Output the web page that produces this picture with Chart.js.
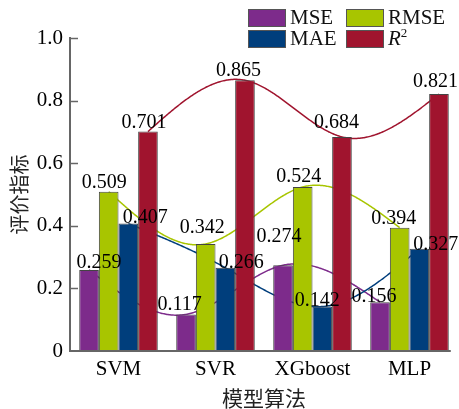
<!DOCTYPE html>
<html>
<head>
<meta charset="utf-8">
<script src="https://cdn.jsdelivr.net/npm/chart.js@4/dist/chart.umd.min.js"></script>
<style>
  html, body { margin: 0; padding: 0; background: #fff; }
  #wrap { position: relative; width: 459px; height: 409px; }
  #legend { position: absolute; left: 248px; top: 9px; font-family: "Liberation Serif", serif; font-size: 21px; color: #111; }
  .item { position: absolute; white-space: nowrap; line-height: 20px; }
  .sw { position: absolute; width: 36px; height: 16px; border: 1px solid #555; }
  .lbl { position: absolute; left: 42px; top: -2px; }
  sup { font-size: 13px; vertical-align: 0; position: relative; top: -8px; }
</style>
</head>
<body>
<div id="wrap">
  <canvas id="c" width="459" height="409"></canvas>
  <div id="legend"></div>
</div>
<script>
// ---- data ----
const categories = ['SVM', 'SVR', 'XGboost', 'MLP'];
const seriesNames = ['MSE', 'RMSE', 'MAE', 'R²'];
const mseValues  = [0.259, 0.117, 0.274, 0.156];
const rmseValues = [0.509, 0.342, 0.524, 0.394];
const maeValues  = [0.407, 0.266, 0.142, 0.327];
const r2Values   = [0.701, 0.865, 0.684, 0.821];
const yTickValues = [0, 0.2, 0.4, 0.6, 0.8, 1.0];
const yTitle = '评价指标';
const xTitle = '模型算法';

// ---- styles ----
const colors = ['#7D2B8B', '#A8C500', '#003E7C', '#A0142E'];
const axisColor = '#666';
const serif = '"Liberation Serif", "Noto Sans CJK SC", serif';
// label offsets relative to bar top centre [dx, dy] per series per category
const labelOffsets = [
  [[10, -2], [-6.5, -4], [-4, -23], [-6, 0]],
  [[-4.5, -4], [-3.5, -11], [-4, -5], [-6, -4]],
  [[17, -0.5], [16, 0], [-5, -0.5], [16.5, 1]],
  [[-4, -4], [-6.5, -4], [-5.5, -9], [-3.5, -7]]
];

// legend (HTML text)
const legendEl = document.getElementById('legend');
const legendPos = [[0, 0], [98, 0], [0, 21], [98, 21]];
const legendOrder = [0, 1, 2, 3];
const legendHtml = ['MSE', 'RMSE', 'MAE', '<i>R</i><sup>2</sup>'];
legendOrder.forEach((si, k) => {
  const d = document.createElement('div');
  d.className = 'item';
  d.style.left = legendPos[k][0] + 'px';
  d.style.top = legendPos[k][1] + 'px';
  d.innerHTML = '<span class="sw" style="background:' + colors[si] + '"></span><span class="lbl">' + legendHtml[si] + '</span>';
  legendEl.appendChild(d);
});

function naturalSpline(pts) {
  const n = pts.length;
  const h = [], al = [], l = [1], mu = [0], z = [0];
  for (let i = 0; i < n - 1; i++) h.push(pts[i + 1].x - pts[i].x);
  for (let i = 1; i < n - 1; i++) {
    al[i] = 3 / h[i] * (pts[i + 1].y - pts[i].y) - 3 / h[i - 1] * (pts[i].y - pts[i - 1].y);
  }
  for (let i = 1; i < n - 1; i++) {
    l[i] = 2 * (pts[i + 1].x - pts[i - 1].x) - h[i - 1] * mu[i - 1];
    mu[i] = h[i] / l[i];
    z[i] = (al[i] - h[i - 1] * z[i - 1]) / l[i];
  }
  const c = new Array(n).fill(0), b = [], d = [];
  for (let j = n - 2; j >= 0; j--) {
    c[j] = j === 0 ? 0 : z[j] - mu[j] * c[j + 1];
    b[j] = (pts[j + 1].y - pts[j].y) / h[j] - h[j] * (c[j + 1] + 2 * c[j]) / 3;
    d[j] = (c[j + 1] - c[j]) / (3 * h[j]);
  }
  return function (x) {
    let j = 0;
    while (j < n - 2 && x > pts[j + 1].x) j++;
    const dx = x - pts[j].x;
    return pts[j].y + b[j] * dx + c[j] * dx * dx + d[j] * dx * dx * dx;
  };
}

const curvePlugin = {
  id: 'curves',
  beforeDatasetsDraw(chart) {
    const ctx = chart.ctx;
    chart.data.datasets.forEach((ds, i) => {
      const meta = chart.getDatasetMeta(i);
      const pts = meta.data.map(b => ({ x: b.x, y: b.y }));
      const f = naturalSpline(pts);
      ctx.save();
      ctx.strokeStyle = colors[i];
      ctx.lineWidth = 1.5;
      ctx.beginPath();
      ctx.moveTo(pts[0].x, pts[0].y);
      for (let x = pts[0].x + 1; x < pts[pts.length - 1].x; x += 1) ctx.lineTo(x, f(x));
      ctx.lineTo(pts[pts.length - 1].x, pts[pts.length - 1].y);
      ctx.stroke();
      ctx.restore();
    });
  },
  afterDatasetsDraw(chart) {
    const ctx = chart.ctx;
    const area = chart.chartArea;
    ctx.save();
    // x axis line ending just past the last bar
    const lastMeta = chart.getDatasetMeta(chart.data.datasets.length - 1);
    const lastBar = lastMeta.data[lastMeta.data.length - 1];
    ctx.strokeStyle = axisColor;
    ctx.lineWidth = 2;
    ctx.beginPath();
    ctx.moveTo(area.left - 1, area.bottom);
    ctx.lineTo(lastBar.x + lastBar.width / 2 + 2, area.bottom);
    ctx.stroke();
    // inward y ticks
    const ys = chart.scales.y;
    ctx.lineWidth = 1.5;
    yTickValues.forEach(v => {
      if (v === 0) return;
      const y = Math.round(ys.getPixelForValue(v)) + 0.5;
      ctx.beginPath();
      ctx.moveTo(area.left, y);
      ctx.lineTo(area.left + 8, y);
      ctx.stroke();
    });
    // value labels
    ctx.font = '20px ' + serif;
    ctx.fillStyle = '#000';
    ctx.textAlign = 'center';
    ctx.textBaseline = 'alphabetic';
    chart.data.datasets.forEach((ds, i) => {
      const meta = chart.getDatasetMeta(i);
      meta.data.forEach((bar, j) => {
        const o = labelOffsets[i][j];
        ctx.fillText(ds.data[j].toFixed(3), bar.x + o[0], bar.y + o[1]);
      });
    });
    ctx.restore();
  }
};

const datasets = [mseValues, rmseValues, maeValues, r2Values].map((vals, i) => ({
  label: seriesNames[i],
  data: vals,
  backgroundColor: colors[i],
  borderColor: '#444',
  borderWidth: 1,
  borderSkipped: 'bottom',
  categoryPercentage: 0.81,
  barPercentage: 1.0
}));

new Chart(document.getElementById('c'), {
  type: 'bar',
  data: { labels: categories, datasets },
  plugins: [curvePlugin],
  options: {
    responsive: false,
    animation: false,
    layout: { padding: { top: 38, right: 1, left: 0, bottom: 0 } },
    plugins: { legend: { display: false }, tooltip: { enabled: false } },
    scales: {
      x: {
        afterFit(s) { s.height = 58; },
        grid: { display: false, drawTicks: false },
        border: { display: false },
        ticks: { color: '#000', font: { family: serif, size: 21 }, padding: 6 },
        title: { display: true, text: xTitle, color: '#222', font: { family: serif, size: 21 }, padding: { top: 0, bottom: -4 } }
      },
      y: {
        min: 0, max: 1.0,
        afterFit(s) { s.width = 70; },
        afterBuildTicks(s) { s.ticks = yTickValues.map(v => ({ value: v })); },
        grid: { display: false, drawTicks: false },
        border: { display: true, color: axisColor, width: 2 },
        ticks: {
          color: '#000', font: { family: serif, size: 21 }, padding: 7,
          callback: v => (v === 0 ? '0' : v.toFixed(1))
        },
        title: { display: true, text: yTitle, color: '#222', font: { family: serif, size: 20 }, padding: { top: 10, bottom: 0 } }
      }
    }
  }
});
</script>
</body>
</html>
